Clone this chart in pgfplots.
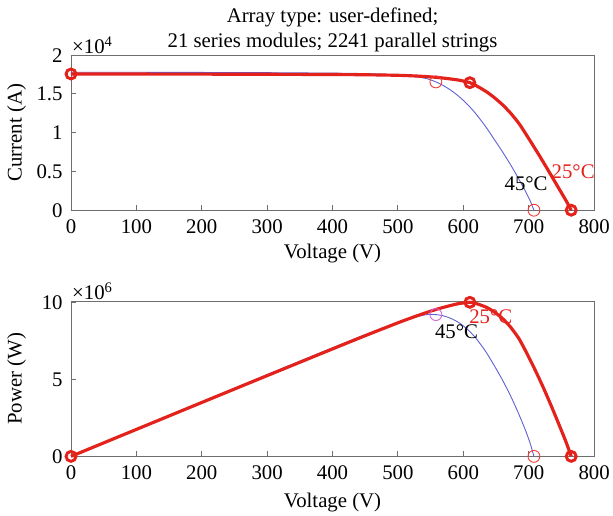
\documentclass[border=0pt]{standalone}
\usepackage{fontspec}
\setmainfont{Liberation Serif}
\usepackage{pgfplots}
\usepackage{pgfplotstable}
\pgfplotsset{compat=1.18}
\definecolor{cred}{RGB}{228,34,28}
\definecolor{cblue}{RGB}{95,95,210}
\definecolor{cmag}{RGB}{215,100,215}
\definecolor{cthin}{RGB}{240,60,50}
\definecolor{cgray}{RGB}{110,110,110}

\pgfplotstableread{
V I
0 1.757
50 1.757
100 1.756
200 1.755
300 1.753
400 1.750
450 1.747
500 1.740
530 1.730
560 1.713
585 1.688
595 1.675
610 1.645
620 1.605
635 1.530
647 1.455
660 1.360
672 1.255
685 1.120
697 0.965
710 0.790
722 0.625
735 0.440
750 0.225
758 0.110
765 0
}\ivA

\pgfplotstableread{
V P
0 0
50 0.8785
100 1.756
200 3.510
300 5.259
400 7.000
450 7.8615
500 8.700
530 9.169
560 9.5928
585 9.8748
595 9.966
610 10.0345
620 9.951
635 9.7155
647 9.414
660 8.976
672 8.434
685 7.672
697 6.726
710 5.609
722 4.5125
735 3.234
750 1.6875
758 0.834
765 0
}\pvA

\pgfplotstableread{
V I
0 1.780
100 1.779
200 1.777
300 1.774
400 1.768
450 1.762
500 1.745
530 1.718
545 1.695
558 1.655
570 1.605
583 1.535
595 1.455
608 1.350
620 1.235
634 1.080
646 0.930
659 0.765
672 0.590
684 0.415
695 0.245
702 0.125
708 0
}\ivB

\pgfplotstableread{
V P
0 0
100 1.779
200 3.554
300 5.322
400 7.072
450 7.929
500 8.725
530 9.1054
545 9.2378
558 9.2349
570 9.1485
583 8.949
595 8.657
608 8.208
620 7.657
634 6.847
646 6.008
659 5.041
672 3.965
684 2.839
695 1.703
702 0.8775
708 0
}\pvB

\pgfplotsset{
  myax/.style={
    scale only axis, width=528.3pt, height=156.6pt,
    xmin=0, xmax=800, xtick={0,100,...,800},
    tick pos=left, tick align=inside, major tick length=5pt,
    axis line style={draw=cgray, line width=1pt},
    every tick/.style={draw=cgray, line width=1pt},
    font=\fontsize{21}{24}\selectfont,
    /pgf/number format/assume math mode=true,
    x tick label style={yshift=-6pt},
    y tick label style={xshift=-5pt},
    clip=false,
    xlabel={Voltage (V)},
    y label style={at={(axis description cs:-0.1041,0.5)}, anchor=center},
    anchor=north west,
  }
}

\begin{document}
\begin{tikzpicture}
\path (-71.7pt,55.7pt) rectangle (541.3pt,-465.3pt);
\begin{axis}[myax, at={(0,0)},
  ymin=0, ymax=2, ytick={0,0.5,1,1.5,2},
  ylabel={Current (A)},
  x label style={at={(axis description cs:0.5,0)}, anchor=center, yshift=-44pt},
  title={Array type: user-defined;\\21 series modules; 2241 parallel strings},
  title style={align=center, font=\fontsize{21}{25}\selectfont, yshift=-6pt},
]
\addplot[cblue, line width=0.9pt, smooth, tension=0.4] table[x=V,y=I]{\ivB};
\addplot[cred, line width=3.2pt, line join=round, smooth, tension=0.4] table[x=V,y=I]{\ivA};
\addplot[only marks, mark=o, mark size=6pt, cthin, line width=0.9pt] coordinates {(558,1.655) (708,0)};
\addplot[only marks, mark=o, mark size=5pt, cred, line width=3pt] coordinates {(0,1.757) (610,1.645) (765,0)};
\node[cred] at (axis cs:768,0.50) {25°C};
\node[black] at (axis cs:696,0.34) {45°C};
\node[anchor=south west, inner sep=1pt] at (rel axis cs:0,1) {×10\textsuperscript{4}};
\end{axis}

\begin{axis}[myax, at={(0,-248.6pt)},
  ymin=0, ymax=10.1, ytick={0,5,10},
  ylabel={Power (W)},
  x label style={at={(axis description cs:0.5,0)}, anchor=center, yshift=-47pt},
]
\addplot[cblue, line width=0.9pt, smooth, tension=0.4] table[x=V,y=P]{\pvB};
\addplot[cred, line width=3.2pt, line join=round, smooth, tension=0.4] table[x=V,y=P]{\pvA};
\addplot[only marks, mark=o, mark size=6pt, cmag, line width=0.9pt] coordinates {(558,9.235)};
\addplot[only marks, mark=o, mark size=6pt, cthin, line width=0.9pt] coordinates {(708,0)};
\addplot[only marks, mark=o, mark size=5pt, cred, line width=3pt] coordinates {(0,0) (610,10.0345) (765,0)};
\node[cred] at (axis cs:642,9.12) {25°C};
\node[black] at (axis cs:589.6,8.09) {45°C};
\node[anchor=south west, inner sep=1pt] at (rel axis cs:0,1) {×10\textsuperscript{6}};
\end{axis}
\end{tikzpicture}
\end{document}
